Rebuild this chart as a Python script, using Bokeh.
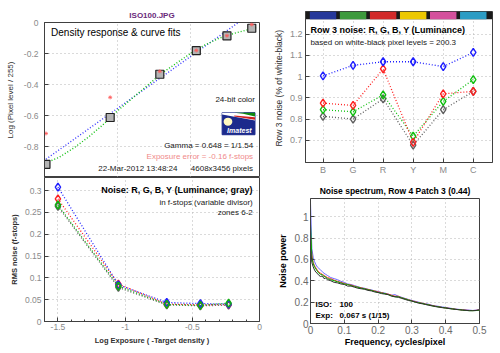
from bokeh.plotting import figure
from bokeh.layouts import column, row
from bokeh.models import Label, FixedTicker, CustomJSTickFormatter, Range1d
from bokeh.embed import file_html
from bokeh.resources import INLINE

FONT = "Liberation Sans"

# ---------------- data ----------------
# Density response (top-left)
density_x = [-1.49, -1.05, -0.71, -0.46, -0.25, -0.08]
density_y = [-0.915, -0.613, -0.334, -0.182, -0.086, -0.037]
density_red_y = [-0.716, -0.483, -0.315, -0.18, -0.085, -0.013]
fit_lin_x = [-1.49, -0.172]
fit_lin_y = [-0.882, 0.0]
fit_curve_x = [-1.49, -1.4, -1.3, -1.2, -1.1, -1.0, -0.9, -0.8, -0.7, -0.6, -0.5, -0.4, -0.3, -0.2, -0.1, -0.04]
fit_curve_y = [-0.905, -0.87, -0.81, -0.74, -0.66, -0.57, -0.49, -0.41, -0.33, -0.265, -0.2, -0.145, -0.1, -0.07, -0.045, -0.03]
tl_yticks = [-0.8, -0.6, -0.4, -0.2, 0]
tl_xticks = [-1.5, -1, -0.5, 0]

# Row 3 noise (top-right)
patch_names = ["B", "G", "R", "Y", "M", "C"]
patch_pos = [1, 2, 3, 4, 5, 6]
patch_colors = ["#26389a", "#3c9a3c", "#d22a2a", "#ecc800", "#d4509c", "#2c9cc4"]
row3_blue = [1.003, 1.053, 1.07, 1.07, 1.047, 1.114]
row3_red = [0.875, 0.864, 1.036, 0.69, 0.919, 0.93]
row3_green = [0.844, 0.834, 0.914, 0.719, 0.883, 0.986]
row3_gray = [0.8125, 0.80, 0.895, 0.677, 0.844, 0.93]
tr_yticks = [0.7, 0.8, 0.9, 1, 1.1, 1.2]

# Noise in f-stops (bottom-left)
zone_x = [-1.5, -1.05, -0.69, -0.44, -0.23]
fstop_gray = [0.264, 0.078, 0.038, 0.036, 0.0375]
fstop_red = [0.281, 0.0857, 0.040, 0.038, 0.039]
fstop_blue = [0.308, 0.084, 0.0436, 0.041, 0.040]
fstop_green = [0.267, 0.081, 0.039, 0.037, 0.042]
bl_yticks = [0, 0.05, 0.1, 0.15, 0.2, 0.25, 0.3]
bl_xticks = [-1.5, -1, -0.5, 0]
bl_xminor = [-1.6, -1.4, -1.3, -1.2, -1.1, -0.9, -0.8, -0.7, -0.6, -0.4, -0.3, -0.2, -0.1]

# Noise spectrum (bottom-right)
freq = [0, 0.004, 0.008, 0.012, 0.016, 0.02, 0.025, 0.03, 0.035, 0.04, 0.045, 0.05,
        0.06, 0.07, 0.08, 0.09, 0.10, 0.11, 0.12, 0.13, 0.14, 0.15,
        0.16, 0.17, 0.18, 0.19, 0.20, 0.21, 0.22, 0.23, 0.24, 0.25,
        0.26, 0.27, 0.28, 0.29, 0.30, 0.31, 0.32, 0.33, 0.34, 0.35,
        0.36, 0.37, 0.38, 0.39, 0.40, 0.41, 0.42, 0.43, 0.44, 0.45,
        0.46, 0.47, 0.48, 0.49, 0.50]
spec_blue = [1.13, 0.70, 0.62, 0.58, 0.55, 0.53, 0.515, 0.50, 0.485, 0.47, 0.46, 0.45,
             0.43, 0.42, 0.41, 0.395, 0.385, 0.37, 0.365, 0.355, 0.345, 0.335,
             0.33, 0.32, 0.315, 0.305, 0.30, 0.29, 0.285, 0.275, 0.265, 0.27,
             0.255, 0.245, 0.235, 0.225, 0.215, 0.208, 0.20, 0.19, 0.185, 0.18,
             0.17, 0.165, 0.16, 0.155, 0.15, 0.145, 0.14, 0.135, 0.132, 0.13,
             0.127, 0.125, 0.122, 0.125, 0.13]
spec_red = [0.82, 0.64, 0.57, 0.54, 0.52, 0.50, 0.48, 0.47, 0.46, 0.45, 0.44, 0.43,
            0.42, 0.405, 0.395, 0.385, 0.375, 0.365, 0.36, 0.35, 0.34, 0.335,
            0.325, 0.32, 0.31, 0.305, 0.295, 0.29, 0.28, 0.275, 0.265, 0.255,
            0.255, 0.24, 0.232, 0.222, 0.212, 0.205, 0.195, 0.19, 0.182, 0.176,
            0.168, 0.162, 0.156, 0.15, 0.146, 0.142, 0.138, 0.133, 0.13, 0.127,
            0.124, 0.122, 0.121, 0.123, 0.127]
spec_green = [0.93, 0.62, 0.56, 0.53, 0.51, 0.49, 0.47, 0.46, 0.455, 0.44, 0.435, 0.42,
              0.41, 0.40, 0.39, 0.38, 0.37, 0.365, 0.355, 0.345, 0.34, 0.33,
              0.325, 0.315, 0.31, 0.30, 0.29, 0.285, 0.28, 0.27, 0.26, 0.25,
              0.25, 0.24, 0.23, 0.22, 0.21, 0.20, 0.195, 0.188, 0.18, 0.175,
              0.165, 0.16, 0.155, 0.15, 0.145, 0.14, 0.137, 0.132, 0.13, 0.125,
              0.122, 0.12, 0.12, 0.121, 0.125]
spec_gray = [0.70, 0.57, 0.53, 0.50, 0.48, 0.47, 0.45, 0.44, 0.445, 0.42, 0.425, 0.41,
             0.40, 0.385, 0.38, 0.37, 0.365, 0.35, 0.35, 0.34, 0.33, 0.325,
             0.32, 0.31, 0.305, 0.295, 0.29, 0.28, 0.275, 0.27, 0.255, 0.25,
             0.245, 0.235, 0.225, 0.215, 0.21, 0.20, 0.19, 0.185, 0.178, 0.17,
             0.165, 0.158, 0.153, 0.148, 0.145, 0.14, 0.135, 0.132, 0.128, 0.125,
             0.123, 0.12, 0.12, 0.122, 0.128]
br_yticks = [0, 0.2, 0.4, 0.6, 0.8, 1]
br_xticks = [0, 0.1, 0.2, 0.3, 0.4, 0.5]

FMT = "return tick.toString();"


def make_fig(w, h, xr, yr, bl, br, bt, bb, xticks, yticks, tick_size="8.5px",
             tick_color="#8a8a8a", xminor=None, title=None):
    p = figure(width=w, height=h, x_range=Range1d(*xr), y_range=Range1d(*yr),
               output_backend="svg", toolbar_location=None,
               min_border_left=bl, min_border_right=br,
               min_border_top=bt, min_border_bottom=bb)
    if title is None:
        p.title = None
    else:
        p.title.text = title
    p.background_fill_color = "white"
    p.border_fill_color = "white"
    p.outline_line_color = "#404040"
    p.outline_line_width = 1
    xt = FixedTicker(ticks=xticks, minor_ticks=xminor or [])
    yt = FixedTicker(ticks=yticks)
    p.xaxis.ticker = xt
    p.yaxis.ticker = yt
    p.xgrid.ticker = xt
    p.ygrid.ticker = yt
    for ax in (p.xaxis[0], p.yaxis[0]):
        ax.formatter = CustomJSTickFormatter(code=FMT)
        ax.major_tick_in = 4
        ax.major_tick_out = 0
        ax.minor_tick_in = 2 if xminor else 0
        ax.minor_tick_out = 0
        ax.major_tick_line_color = "#404040"
        ax.minor_tick_line_color = "#404040"
        ax.axis_line_color = "#404040"
        ax.major_label_text_font = FONT
        ax.major_label_text_font_size = tick_size
        ax.major_label_text_color = tick_color
        ax.axis_label_text_font = FONT
        ax.axis_label_text_font_style = "normal"
        ax.axis_label_text_color = "#303030"
    p.yaxis.minor_tick_in = 0
    for g in (p.xgrid[0], p.ygrid[0]):
        g.grid_line_color = "#b4b4b4"
        g.grid_line_dash = "1 3"
        g.grid_line_width = 1
    return p


def lab(p, x, y, text, size="8px", color="#202020", align="left", style="normal"):
    p.add_layout(Label(x=x, y=y, text=text, text_font=FONT, text_font_size=size,
                       text_color=color, text_align=align, text_baseline="middle",
                       text_font_style=style))


# ---------------- top-left: density response ----------------
tl = make_fig(270, 177, (-1.5, -0.027), (-1, 0), 44, 11, 22, 0, tl_xticks, tl_yticks,
              title="ISO100.JPG")
tl.xaxis.visible = False
tl.yaxis.major_label_standoff = 6
tl.yaxis.axis_label = "Log (Pixel level / 255)"
tl.yaxis.axis_label_text_font_size = "8px"
tl.yaxis.axis_label_standoff = 6
tl.title.align = "center"
tl.title.text_font = FONT
tl.title.text_font_size = "8px"
tl.title.text_font_style = "bold"
tl.title.text_color = "#6a2a7a"
tl.title.standoff = 6

tl.line(fit_lin_x, fit_lin_y, line_color="#3a3aff", line_dash="1 2", line_width=1.4)
tl.line(fit_curve_x, fit_curve_y, line_color="#10c010", line_dash="1 2", line_width=1.4)
tl.scatter(density_x, density_y, marker="square", size=8, fill_color="#b4b4b4",
           line_color="#202020", line_width=1.2)
tl.scatter(density_x, density_red_y, marker="asterisk", size=4, line_color="#ff5a5a",
           line_width=0.8)

lab(tl, -1.455, -0.065, "Density response & curve fits", size="10px", color="#000000")
lab(tl, -0.058, -0.498, "24-bit color", align="right")
lab(tl, -0.071, -0.795, "Gamma = 0.648 = 1/1.54", align="right")
lab(tl, -0.071, -0.863, "Exposure error = -0.16 f-stops", align="right", color="#f08a8a")
lab(tl, -0.589, -0.944, "22-Mar-2012 13:48:24", align="right")
lab(tl, -0.071, -0.944, "4608x3456 pixels", align="right")

# Imatest logo (decoration)
tl.quad(left=-0.283, right=-0.058, top=-0.582, bottom=-0.724, fill_color="#1c2a8c", line_color="#1c2a8c")
tl.patch([-0.283, -0.14, -0.058, -0.058, -0.283], [-0.582, -0.582, -0.598, -0.632, -0.594],
         fill_color="white", line_color=None)
tl.patch([-0.2, -0.058, -0.058, -0.2], [-0.600, -0.612, -0.628, -0.606],
         fill_color="#d02020", line_color=None)
tl.patch([-0.2, -0.058, -0.058, -0.14], [-0.582, -0.582, -0.606, -0.588],
         fill_color="#108a10", line_color=None)
tl.ellipse(x=[-0.243], y=[-0.64], width=0.06, height=0.052, fill_color="#fff8c0", line_color=None)
lab(tl, -0.165, -0.695, "Imatest", size="7px", color="white", align="center", style="bold italic")

# ---------------- top-right: row 3 noise ----------------
tr = make_fig(230, 177, (0.417, 6.64), (0.595, 1.307), 30, 8, 11, 14, patch_pos, tr_yticks,
              tick_size="9px", tick_color="#8a8a8a")
tr.xaxis.major_label_overrides = {k: v for k, v in zip(patch_pos, patch_names)}
tr.xaxis.major_label_standoff = 2
tr.yaxis.major_label_standoff = 3
tr.yaxis.axis_label = "Row 3 noise (%  of white-black)"
tr.yaxis.axis_label_text_font_size = "8.5px"
tr.yaxis.axis_label_standoff = 3
tr.quad(left=[0.417], right=[6.64], top=[1.307], bottom=[1.27], fill_color="#1a1a1a", line_color=None)
tr.quad(left=[x - 0.44 for x in patch_pos], right=[x + 0.44 for x in patch_pos],
        top=1.307, bottom=1.27, fill_color=patch_colors, line_color=None)
for ys, col in ((row3_gray, "#606060"), (row3_green, "#10c010"), (row3_red, "#ff2020"), (row3_blue, "#2020ff")):
    tr.line(patch_pos, ys, line_color=col, line_dash="1 2", line_width=1.3)
    tr.scatter(patch_pos, ys, marker="diamond", size=8, fill_color=None, line_color=col, line_width=1.4)
lab(tr, 0.58, 1.218, "Row 3 noise: R, G, B, Y (Luminance)", size="9px", color="#000000", style="bold")
lab(tr, 0.58, 1.163, "based on white-black pixel levels = 200.3", size="8px", color="#202020")

# ---------------- bottom-left: noise in f-stops ----------------
bl = make_fig(270, 176, (-1.6, 0), (0, 0.33), 44, 11, 0, 32, bl_xticks, bl_yticks,
              tick_size="8.5px", xminor=bl_xminor)
bl.xaxis.major_label_standoff = 2
bl.yaxis.major_label_standoff = 3
bl.xaxis.axis_label = "Log Exposure ( -Target density )"
bl.yaxis.axis_label = "RMS noise (f-stops)"
for ax in (bl.xaxis[0], bl.yaxis[0]):
    ax.axis_label_text_font_size = "7.5px"
    ax.axis_label_text_font_style = "bold"
    ax.axis_label_standoff = 3
for ys, col in ((fstop_gray, "#606060"), (fstop_red, "#ff2020"), (fstop_blue, "#2020ff"), (fstop_green, "#10b010")):
    bl.line(zone_x, ys, line_color=col, line_dash="1 2", line_width=1.3)
    bl.scatter(zone_x, ys, marker="diamond", size=8, fill_color=None, line_color=col, line_width=1.4)
lab(bl, -0.05, 0.302, "Noise: R, G, B, Y (Luminance; gray)", size="9px", color="#000000", align="right", style="bold")
lab(bl, -0.05, 0.273, "in f-stops (variable divisor)", size="8px", align="right")
lab(bl, -0.05, 0.250, "zones 6-2", size="8px", align="right")

# ---------------- bottom-right: noise spectrum ----------------
br = make_fig(230, 176, (0, 0.5), (0, 1.17), 40, 21, 21, 30, br_xticks, br_yticks,
              tick_size="10px", tick_color="#6a6a6a",
              title="Noise spectrum, Row 4 Patch 3 (0.44)")
br.xaxis.major_label_standoff = 2
br.yaxis.major_label_standoff = 2
br.xaxis.axis_label = "Frequency, cycles/pixel"
br.yaxis.axis_label = "Noise power"
for ax in (br.xaxis[0], br.yaxis[0]):
    ax.axis_label_text_font_size = "9px"
    ax.axis_label_text_font_style = "bold"
    ax.axis_label_text_color = "#000000"
br.xaxis.axis_label_standoff = 0
br.yaxis.axis_label_standoff = 4
br.title.align = "center"
br.title.text_font = FONT
br.title.text_font_size = "8.5px"
br.title.text_font_style = "bold"
br.title.text_color = "#000000"
br.title.standoff = 5
for ys, col in ((spec_blue, "#6c6cff"), (spec_red, "#ff3030"), (spec_green, "#00b000"), (spec_gray, "#303030")):
    br.line(freq, ys, line_color=col, line_width=1)
lab(br, 0.0148, 0.176, "ISO:", size="8px", color="#000000", style="bold")
lab(br, 0.086, 0.176, "100", size="8px", color="#000000", style="bold")
lab(br, 0.0148, 0.072, "Exp:", size="8px", color="#000000", style="bold")
lab(br, 0.086, 0.072, "0.067 s  (1/15)", size="8px", color="#000000", style="bold")

# wrap each figure so that the frames are not aligned across the grid
layout = column(row(column(tl), column(tr)), row(column(bl), column(br)))
open("out.html", "w").write(file_html(layout, INLINE))
